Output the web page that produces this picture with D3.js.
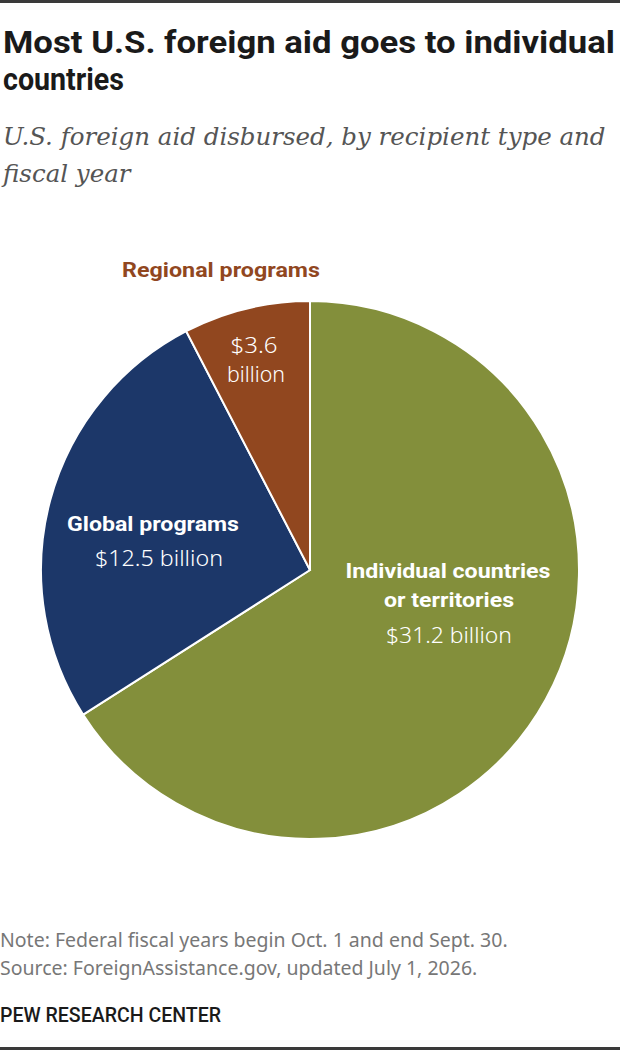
<!DOCTYPE html>
<html>
<head>
<meta charset="utf-8">
<script src="https://cdn.jsdelivr.net/npm/d3@7"></script>
<style>
  body { margin: 0; background: #fff; }
  svg { display: block; }
</style>
</head>
<body>
<div id="chart"></div>
<script>
// data (billions of dollars)
var categories = ["Individual countries or territories", "Global programs", "Regional programs"];
var values = [31.2, 12.5, 3.6];
var colors = ["#838f3b", "#1c3769", "#91471f"];

var width = 620, height = 1050;
var cx = 310, cy = 570, radius = 269;

var svg = d3.select("#chart")
    .append("svg")
        .attr("width", width)
        .attr("height", height);

var condensed = "Roboto, 'Noto Sans', sans-serif";
var sans = "'Noto Sans', Roboto, sans-serif";

// top & bottom rules
svg.append("rect").attr("x", 0).attr("y", 0).attr("width", width).attr("height", 3).attr("fill", "#3a3a3a");
svg.append("rect").attr("x", 0).attr("y", height - 3).attr("width", width).attr("height", 3).attr("fill", "#3a3a3a");

// title (squeezed to mimic the condensed face)
var titleLines = [
    { y: 53, text: "Most U.S. foreign aid goes to individual", len: 612 },
    { y: 90, text: "countries", len: 121 }
];
titleLines.forEach(function(l){
    svg.append("text")
        .attr("x", 3)
        .attr("y", l.y)
        .attr("font-family", condensed)
        .attr("font-weight", "bold")
        .attr("font-size", "32px")
        .attr("fill", "#1a1a1a")
        .attr("textLength", l.len)
        .attr("lengthAdjust", "spacingAndGlyphs")
        .text(l.text);
});

// subtitle
var subtitle = svg.append("text")
    .attr("font-family", "'DejaVu Serif', Georgia, serif")
    .attr("font-style", "italic")
    .attr("font-size", "24.5px")
    .attr("fill", "#555");
subtitle.append("tspan").attr("x", 3).attr("y", 145).text("U.S. foreign aid disbursed, by recipient type and");
subtitle.append("tspan").attr("x", 3).attr("y", 182).text("fiscal year");

// pie
var pie = d3.pie().sort(null).value(function(d){ return d; });
var arc = d3.arc().innerRadius(0).outerRadius(radius);
var arcs = pie(values);

var g = svg.append("g").attr("transform", "translate(" + cx + "," + cy + ")");
g.selectAll("path")
    .data(arcs)
    .enter()
    .append("path")
        .attr("d", arc)
        .attr("fill", function(d, i){ return colors[i]; })
        .attr("stroke", "#fff")
        .attr("stroke-width", 2);

// labels
function addLines(x, lines) {
    lines.forEach(function(l){
        var t = svg.append("text")
            .attr("x", l.x || x)
            .attr("y", l.y)
            .attr("text-anchor", "middle")
            .attr("font-family", l.bold ? condensed : sans)
            .attr("font-weight", l.bold ? "bold" : "300")
            .attr("font-size", l.bold ? "21px" : "21px")
            .attr("fill", l.fill || "#fff")
            .text(l.text);
        if (l.len) t.attr("textLength", l.len).attr("lengthAdjust", "spacingAndGlyphs");
    });
}

function fmt(v) { return "$" + v; }

addLines(449, [
    { y: 578, text: "Individual countries", bold: true, len: 205, x: 448 },
    { y: 607, text: "or territories", bold: true, len: 130 },
    { y: 643, text: fmt(values[0]) + " billion", len: 126 }
]);
addLines(153, [
    { y: 531, text: categories[1], bold: true, len: 172 },
    { y: 566, text: fmt(values[1]) + " billion", x: 159, len: 128 }
]);
addLines(221, [
    { y: 277, text: categories[2], bold: true, fill: colors[2], len: 198 }
]);
addLines(254, [
    { y: 353, text: fmt(values[2]), len: 47 },
    { y: 382, text: "billion", x: 256, len: 58 }
]);

// notes
var note = svg.append("text")
    .attr("font-family", sans)
    .attr("font-size", "19.5px")
    .attr("fill", "#777");
note.append("tspan").attr("x", 0).attr("y", 947).text("Note: Federal fiscal years begin Oct. 1 and end Sept. 30.");
note.append("tspan").attr("x", 0).attr("y", 975).text("Source: ForeignAssistance.gov, updated July 1, 2026.");

svg.append("text")
    .attr("x", 0)
    .attr("y", 1022)
    .attr("font-family", condensed)
    .attr("font-weight", "500")
    .attr("font-size", "20px")
    .attr("fill", "#1a1a1a")
    .attr("textLength", 221)
    .attr("lengthAdjust", "spacingAndGlyphs")
    .text("PEW RESEARCH CENTER");
</script>
</body>
</html>
